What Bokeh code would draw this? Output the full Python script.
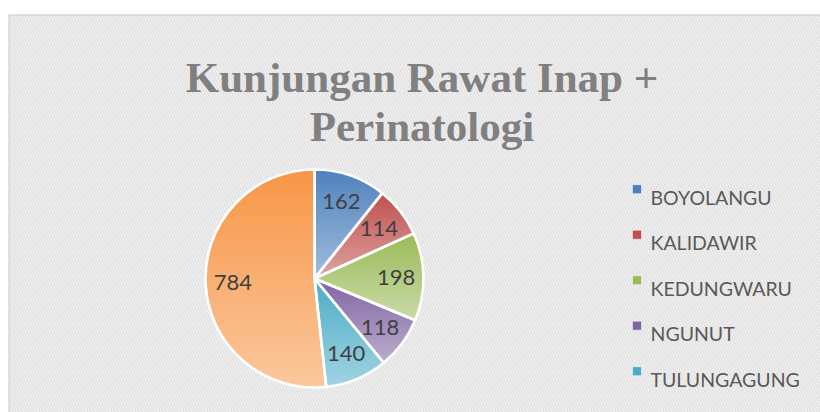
import math
from bokeh.plotting import figure
from bokeh.models import Range1d
from bokeh.core.properties import value
from bokeh.embed import file_html
from bokeh.resources import INLINE

# ---- data ----
categories = ["BOYOLANGU", "KALIDAWIR", "KEDUNGWARU", "NGUNUT", "TULUNGAGUNG", "PERINATOLOGI"]
visits = [162, 114, 198, 118, 140, 784]
colors = ["#4F81BD", "#C0504D", "#9BBB59", "#8064A2", "#4BACC6", "#F79646"]
title_lines = ["Kunjungan Rawat Inap +", "Perinatologi"]
legend_visible = 5  # the sixth legend entry falls below the visible area

W, H = 820, 412
p = figure(width=W, height=H, x_range=Range1d(0, W), y_range=Range1d(0, H),
           output_backend="svg", toolbar_location=None, min_border=0,
           outline_line_color=None, background_fill_color="white",
           border_fill_color="white")
p.axis.visible = False
p.grid.visible = False

# chart area with diagonal hatch background
p.quad(left=[8.5], right=[W + 10], bottom=[-10], top=[397.5],
       fill_color="white", line_color="#d9d9d9", line_width=1.5,
       hatch_pattern="left_diagonal_line", hatch_color="#e3e3e3",
       hatch_scale=6, hatch_weight=2.2)

# title
for i, t in enumerate(title_lines):
    p.text(x=[421.5], y=[335 - 49 * i], text=[t], text_align="center",
           text_baseline="alphabetic", text_font=value("Liberation Serif"),
           text_font_style="bold", text_font_size="43px", text_color="#808080")

# pie geometry
cx, cy, R = 314.0, 134.0, 109.0
total = float(sum(visits))
bounds = [0.0]
for v in visits:
    bounds.append(bounds[-1] + v / total * 2 * math.pi)


def pt(theta, r):
    return (cx + r * math.sin(theta), cy + r * math.cos(theta))


def clip(poly, y0, above):
    out = []
    n = len(poly)
    for i in range(n):
        P, Q = poly[i], poly[(i + 1) % n]
        inP = P[1] >= y0 if above else P[1] <= y0
        inQ = Q[1] >= y0 if above else Q[1] <= y0
        if inP:
            out.append(P)
        if inP != inQ:
            t = (y0 - P[1]) / (Q[1] - P[1])
            out.append((P[0] + t * (Q[0] - P[0]), y0))
    return out


def mix(hexc, a):
    r, g, b = (int(hexc[i:i + 2], 16) for i in (1, 3, 5))
    r = round(r + (255 - r) * a)
    g = round(g + (255 - g) * a)
    b = round(b + (255 - b) * a)
    return "#%02x%02x%02x" % (r, g, b)


xs, ys, fills = [], [], []
for k in range(len(visits)):
    a0, a1 = bounds[k], bounds[k + 1]
    n = max(4, int((a1 - a0) * 60))
    poly = [(cx, cy)] + [pt(a0 + (a1 - a0) * j / n, R) for j in range(n + 1)]
    ymin = min(q[1] for q in poly)
    ymax = max(q[1] for q in poly)
    step = 2.0
    y = ymax
    while y > ymin:
        lo, hi = max(y - step - 0.6, ymin), y
        s = clip(clip(poly, lo, True), hi, False)
        if len(s) >= 3:
            t = (ymax - (lo + hi) / 2) / (ymax - ymin)
            xs.append([q[0] for q in s])
            ys.append([q[1] for q in s])
            fills.append(mix(colors[k], 0.47 * t))
        y -= step

p.patches(xs=xs, ys=ys, fill_color=fills, line_color=fills, line_width=0.6)

# slice outlines (white separators)
starts = [math.pi / 2 - b for b in bounds[:-1]]
ends = [math.pi / 2 - b for b in bounds[1:]]
p.wedge(x=cx, y=cy, radius=R, start_angle=starts, end_angle=ends,
        direction="clock", fill_alpha=0, line_color="white", line_width=2.6)

# data labels
lx, ly, lt = [], [], []
for k, v in enumerate(visits):
    mid = (bounds[k] + bounds[k + 1]) / 2
    x, y = pt(mid, 0.75 * R)
    lx.append(x)
    ly.append(y)
    lt.append(str(v))
p.text(x=lx, y=ly, text=lt, text_align="center", text_baseline="middle",
       text_font=value("Lato"), text_font_size="22px", text_color="#404040")

# legend
gx, gy, gt, gc = [], [], [], []
for k in range(legend_visible):
    gx.append(650)
    gy.append(215.3 - 45.5 * k)
    gt.append(categories[k])
    gc.append(colors[k])
p.scatter(x=[636.5] * legend_visible, y=[y + 8 for y in gy], marker="square",
          size=9, fill_color=gc, line_color="white", line_width=0.5)
p.text(x=gx, y=gy, text=gt, text_align="left", text_baseline="alphabetic",
       text_font=value("Lato"), text_font_size="19.5px", text_color="#595959")

open("out.html", "w").write(file_html(p, INLINE))
